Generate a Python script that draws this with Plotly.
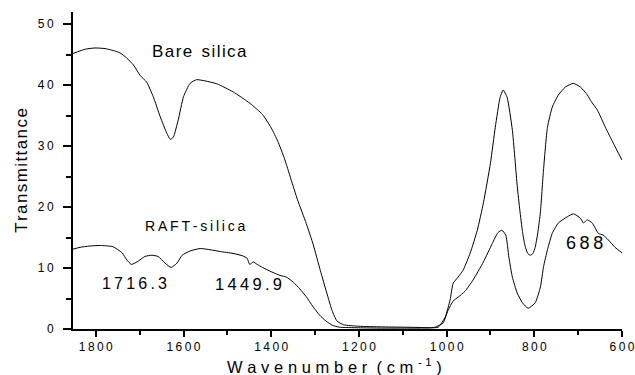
import plotly.graph_objects as go

# ---- data ----
bare_x = [1852, 1824, 1802, 1779, 1756, 1745, 1730, 1714, 1699, 1684, 1669, 1653, 1638, 1630, 1623,
          1612, 1600, 1585, 1570, 1551, 1523, 1487, 1448, 1420, 1400, 1385, 1370, 1355, 1340, 1320, 1304,
          1288, 1272, 1261, 1250, 1235, 1200, 1150, 1100, 1060, 1038, 1019, 1003, 992, 985, 974,
          962, 946, 930, 916, 900, 889, 878, 871, 862, 850, 839, 833, 827, 821, 815, 809, 803, 798,
          792, 786, 779, 770, 759, 745, 729, 711, 695, 679, 670, 666, 656, 638, 620, 600]
bare_y = [45.2, 45.9, 46.1, 46.0, 45.6, 45.3, 44.5, 43.3, 41.6, 40.5, 38.1, 34.8, 32.1, 31.1, 31.5,
          34.3, 38.1, 40.3, 40.9, 40.7, 40.2, 38.9, 37.0, 35.2, 33.0, 30.8, 28.0, 24.6, 21.2, 17.3, 13.8,
          9.6, 5.6, 3.0, 1.3, 0.7, 0.45, 0.35, 0.3, 0.25, 0.2, 0.3, 2.0, 4.8, 7.5, 8.5,
          9.7, 12.5, 16.2, 20.7, 27.2, 33.1, 38.0, 39.2, 38.0, 32.6, 23.5, 19.5, 16.0, 13.6, 12.4, 12.1, 12.4, 13.4,
          15.8, 19.2, 26.1, 33.1, 36.4, 38.4, 39.7, 40.3, 39.7, 38.4, 37.3, 36.9, 35.9, 33.1, 30.5, 27.7]

raft_x = [1852, 1836, 1815, 1790, 1761, 1740, 1729, 1719, 1706, 1688, 1672, 1658, 1642, 1628, 1615,
          1603, 1585, 1562, 1539, 1516, 1487, 1465, 1455, 1449, 1441, 1432, 1420, 1400, 1380, 1365,
          1350, 1335, 1320, 1305, 1290, 1275, 1260, 1245, 1200, 1150, 1100, 1060, 1035, 1026, 1008,
          997, 985, 974, 958, 940, 916, 896, 883, 874, 865, 858, 850, 839, 827, 814, 798, 786, 779,
          770, 759, 745, 725, 711, 695, 688, 679, 668, 654, 643, 631, 616, 600]
raft_y = [13.1, 13.4, 13.6, 13.7, 13.5, 12.5, 11.3, 10.6, 11.0, 11.9, 12.1, 11.9, 10.8, 10.1, 10.8,
          12.1, 12.8, 13.2, 13.0, 12.7, 12.4, 12.0, 11.6, 10.6, 11.0, 10.6, 10.1, 9.4, 8.8, 8.5,
          7.7, 6.6, 5.3, 3.7, 2.3, 1.3, 0.6, 0.3, 0.2, 0.15, 0.15, 0.15, 0.2, 0.3, 1.0,
          3.0, 4.6, 5.2, 6.2, 8.0, 11.0, 14.0, 15.8, 16.2, 15.4, 11.8, 8.5, 5.9, 4.3, 3.4, 4.3, 6.9, 10.2,
          13.0, 15.7, 17.4, 18.4, 18.9, 18.2, 17.4, 17.9, 17.4, 15.7, 15.4, 14.6, 13.4, 12.5]

x_ticks = [1800, 1600, 1400, 1200, 1000, 800, 600]
y_ticks = [0, 10, 20, 30, 40, 50]

labels = ["Bare silica", "RAFT-silica", "1716.3", "1449.9", "688"]

FONT = "Arial, Liberation Sans, sans-serif"
TS = "\u2009"
HS = "\u200a"


def spaced(s, sep=TS):
    # letter-spaced text: words joined by a wider gap
    return (" \u00a0" if sep == HS else " ").join(sep.join(list(w)) for w in s.split(" "))


fig = go.Figure()
for xs, ys in [(bare_x, bare_y), (raft_x, raft_y)]:
    fig.add_trace(go.Scatter(x=xs, y=ys, mode="lines",
                             line=dict(color="black", width=1, shape="spline", smoothing=0.5),
                             showlegend=False, hoverinfo="skip"))

ann = [
    (labels[0], 1564, 45.6, 17, HS),
    (labels[1], 1572, 16.9, 14, TS),
    (labels[2], 1712, 7.4, 16, TS),
    (labels[3], 1452, 7.4, 16.5, TS),
    (labels[4], 686, 14.05, 18, TS),
]
for text, ax, ay, size, sep in ann:
    fig.add_annotation(x=ax, y=ay, text=spaced(text, sep), showarrow=False,
                       font=dict(family=FONT, size=size, color="black"),
                       xanchor="center", yanchor="middle")

# x axis title (placed as annotation to match the reference's off-centre position)
TT = TS + HS
xtitle = (TT.join(list("Wavenumber")) + TT + " " + TT.join(list("(cm")) + TT
          + "<sup>" + TT.join(list("-1")) + "</sup>" + TT + ")")
fig.add_annotation(x=0.477, y=-0.117, xref="paper", yref="paper", text=xtitle, showarrow=False,
                   font=dict(family=FONT, size=16.5, color="black"),
                   xanchor="center", yanchor="middle")

axis_common = dict(showline=True, linecolor="black", linewidth=2, showgrid=False, zeroline=False,
                   ticks="outside", tickcolor="black", tickwidth=2, mirror=False, automargin=False,
                   tickfont=dict(family=FONT, size=12, color="black"))

fig.update_layout(
    width=635, height=375,
    margin=dict(l=73, r=13, t=12, b=46),
    paper_bgcolor="white", plot_bgcolor="white",
    xaxis=dict(range=[1852, 600], tickvals=x_ticks,
               ticktext=[TS.join(str(v)) for v in x_ticks], ticklen=6,
               minor=dict(dtick=100, ticks="outside", ticklen=4, tickwidth=1.5, tickcolor="black"),
               **axis_common),
    yaxis=dict(range=[0, 52], tickvals=y_ticks,
               ticktext=[TS.join(str(v)) for v in y_ticks], ticklen=8, ticklabelstandoff=7,
               minor=dict(dtick=5, ticks="outside", ticklen=5, tickwidth=1.5, tickcolor="black"),
               title=dict(text=HS.join("Transmittance"),
                          font=dict(family=FONT, size=17, color="black"), standoff=6),
               **axis_common),
)

fig.write_html("out.html")
